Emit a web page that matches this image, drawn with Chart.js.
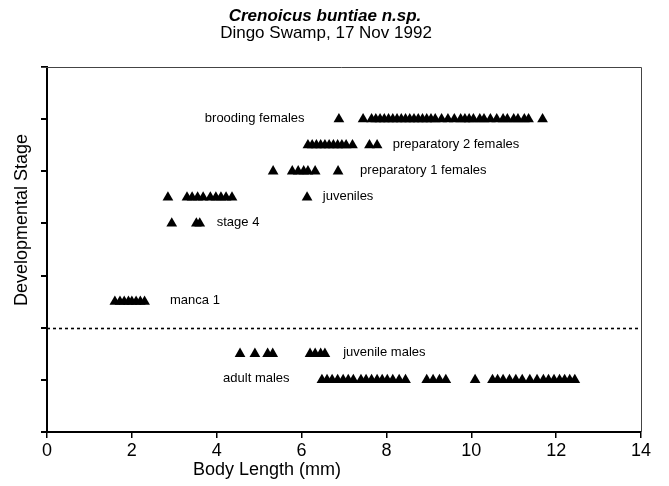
<!DOCTYPE html>
<html>
<head>
<meta charset="utf-8">
<script src="https://cdn.jsdelivr.net/npm/chart.js@4"></script>
<style>
  html, body { margin: 0; padding: 0; background: #fff; }
  #wrap { width: 669px; height: 486px; }
</style>
</head>
<body>
<div id="wrap"><canvas id="chart" width="669" height="486"></canvas></div>
<script>
// body length (mm) of each animal, one array per stage
const broodingFemales = [6.88, 7.45, 7.65, 7.75, 7.85, 7.95, 8.05, 8.15, 8.25, 8.35, 8.45, 8.55, 8.65, 8.75, 8.85, 8.95, 9.05, 9.15, 9.3, 9.45, 9.6, 9.75, 9.85, 9.95, 10.05, 10.2, 10.3, 10.45, 10.6, 10.75, 10.85, 11.0, 11.1, 11.25, 11.35, 11.68]
const prep2Females = [6.15, 6.25, 6.35, 6.45, 6.55, 6.65, 6.75, 6.85, 6.95, 7.05, 7.2, 7.6, 7.78]
const prep1Females = [5.33, 5.78, 5.92, 6.05, 6.15, 6.32, 6.86]
const juveniles = [2.85, 3.3, 3.42, 3.55, 3.68, 3.85, 3.98, 4.1, 4.22, 4.36, 6.13]
const stage4 = [2.94, 3.52, 3.6]
const manca1 = [1.6, 1.72, 1.82, 1.92, 2.0, 2.1, 2.2, 2.3]
const juvenileMales = [4.55, 4.9, 5.2, 5.32, 6.2, 6.32, 6.45, 6.55]
const adultMales = [6.48, 6.6, 6.72, 6.85, 6.98, 7.1, 7.22, 7.4, 7.52, 7.65, 7.78, 7.9, 8.02, 8.15, 8.3, 8.45, 8.95, 9.1, 9.25, 9.4, 10.09, 10.5, 10.62, 10.75, 10.9, 11.05, 11.2, 11.38, 11.55, 11.7, 11.82, 11.95, 12.08, 12.2, 12.32, 12.44]

// stage names, their level on the y axis, and where the name starts (mm)
const stageNames = ['brooding females', 'preparatory 2 females', 'preparatory 1 females', 'juveniles', 'stage 4', 'manca 1', 'juvenile males', 'adult males']
const stageLevels = [4, 3.5, 3, 2.5, 2, 0.5, -0.5, -1]
const labelX = [3.72, 8.15, 7.38, 6.5, 4.0, 2.9, 6.98, 4.15]
const stageData = [broodingFemales, prep2Females, prep1Females, juveniles, stage4, manca1, juvenileMales, adultMales]

// axis ranges
const xMin = 0, xMax = 14, xStep = 2
const yMin = -2, yMax = 5
const splitLevel = 0  // dotted line between females/juveniles and males

const FONT = '"Liberation Sans", Arial, Helvetica, sans-serif'

const datasets = stageData.map((arr, i) => ({
  label: stageNames[i],
  data: arr.map(v => ({ x: v, y: stageLevels[i] })),
  pointStyle: 'triangle',
  pointRadius: 6.2,
  pointHoverRadius: 6.2,
  backgroundColor: '#000',
  borderColor: '#000',
  borderWidth: 0
}))

// frame, dotted split line, stage names and titles
const decorations = {
  id: 'decorations',
  beforeDatasetsDraw(chart) {
    const { ctx, chartArea: a, scales } = chart
    ctx.save()
    // thin top and right frame
    ctx.strokeStyle = '#444'
    ctx.lineWidth = 1
    ctx.beginPath()
    ctx.moveTo(a.left - 6, a.top + 0.5)
    ctx.lineTo(a.right + 0.5, a.top + 0.5)
    ctx.lineTo(a.right + 0.5, a.bottom)
    ctx.stroke()
    // dotted line
    const y0 = Math.round(scales.y.getPixelForValue(splitLevel)) + 0.5
    ctx.strokeStyle = '#000'
    ctx.lineWidth = 1.6
    ctx.setLineDash([3, 3])
    ctx.beginPath()
    ctx.moveTo(a.left, y0)
    ctx.lineTo(a.right, y0)
    ctx.stroke()
    ctx.restore()
  },
  afterDraw(chart) {
    const { ctx, scales } = chart
    ctx.save()
    ctx.fillStyle = '#000'
    ctx.textBaseline = 'middle'
    ctx.textAlign = 'left'
    ctx.font = '13px ' + FONT
    stageNames.forEach((name, i) => {
      ctx.fillText(name, scales.x.getPixelForValue(labelX[i]), scales.y.getPixelForValue(stageLevels[i]) - 1)
    })
    // chart title
    ctx.textAlign = 'center'
    ctx.font = 'italic bold 17px ' + FONT
    ctx.fillText('Crenoicus buntiae n.sp.', 325, 16)
    ctx.font = '17px ' + FONT
    ctx.fillText('Dingo Swamp, 17 Nov 1992', 326, 33)
    // axis titles
    ctx.font = '18px ' + FONT
    ctx.fillText('Body Length (mm)', 267, 470)
    ctx.translate(22, 220)
    ctx.rotate(-Math.PI / 2)
    ctx.fillText('Developmental Stage', 0, 0)
    ctx.restore()
  }
}

const config = {
  type: 'scatter',
  data: { datasets: datasets },
  options: {
    responsive: false,
    animation: false,
    layout: { padding: { left: 0, right: 28, top: 67, bottom: 0 } },
    plugins: {
      legend: { display: false },
      title: { display: false },
      tooltip: { enabled: false }
    },
    scales: {
      x: {
        type: 'linear',
        min: xMin,
        max: xMax,
        afterFit: s => { s.height = 54 },
        ticks: { stepSize: xStep, color: '#000', font: { family: FONT, size: 18 }, padding: 2, maxRotation: 0 },
        grid: { drawOnChartArea: false, drawTicks: true, tickLength: 6, color: '#000', lineWidth: 1.5 },
        border: { display: true, color: '#000', width: 2 }
      },
      y: {
        type: 'linear',
        min: yMin,
        max: yMax,
        afterFit: s => { s.width = 47 },
        ticks: { stepSize: 1, callback: () => '', padding: 0 },
        grid: { drawOnChartArea: false, drawTicks: true, tickLength: 6, color: '#000', lineWidth: 2 },
        border: { display: true, color: '#000', width: 2 }
      }
    }
  },
  plugins: [decorations]
}

let myChart = new Chart(document.querySelector('#chart'), config)
</script>
</body>
</html>
